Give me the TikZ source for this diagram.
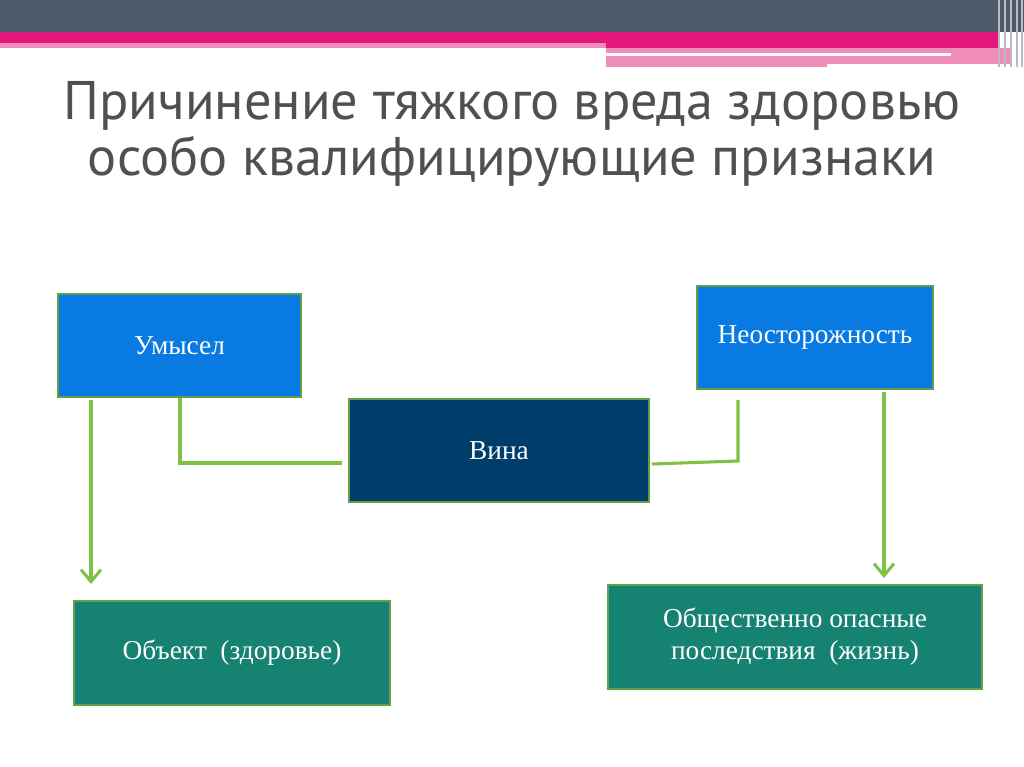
\documentclass[tikz,border=0pt]{standalone}
\usepackage{fontspec}
\setmainfont{Liberation Serif}
\newfontfamily\titlefont{PT Sans}
\usetikzlibrary{arrows.meta}
\definecolor{bardark}{RGB}{78,90,106}
\definecolor{barpink}{RGB}{229,23,123}
\definecolor{barlight}{RGB}{240,140,186}
\definecolor{titlegray}{RGB}{80,80,80}
\definecolor{boxblue}{RGB}{8,122,226}
\definecolor{boxnavy}{RGB}{0,61,107}
\definecolor{boxteal}{RGB}{22,130,114}
\definecolor{edgegreen}{RGB}{96,160,72}
\definecolor{linegreen}{RGB}{125,194,66}
\tikzstyle{box} = [draw=edgegreen, line width=1.5pt, text=white, align=center,
  font=\fontsize{20.5}{24}\selectfont, inner sep=0pt]
\tikzstyle{link} = [linegreen, line width=2.3pt]
\tikzstyle{arrow} = [link, -{Straight Barb[length=9pt,width=15pt,line width=2.3pt]}]

\begin{document}
\begin{tikzpicture}[x=0.75pt,y=-0.75pt]
            \useasboundingbox (0,0) rectangle (1024,767);
            % top bar
            \fill[bardark] (0,0) rectangle (1024,32);
            \fill[barpink] (0,32) rectangle (1000,48);
            \fill[barlight] (0,43) rectangle (606,48);
            \fill[barlight] (606,48) rectangle (1010,67);
            \fill[white] (606,53) rectangle (951,56);
            \fill[white] (827,64) rectangle (1010,67);
            \foreach \xx in {998,1004,1010,1016,1021}
              \fill[bardark!40] (\xx,0) rectangle ++(2,67);
            % title
            \node[text=titlegray, font=\titlefont\fontsize{40.8}{41.5}\selectfont, align=center] (title) at (512,134)
              {Причинение тяжкого вреда здоровью\\ особо квалифицирующие признаки};
            % boxes
            \node[box, fill=boxblue, minimum width=182pt, minimum height=77pt] (umysel) at (179.5,345.5) {Умысел};
            \node[box, fill=boxblue, minimum width=177pt, minimum height=77pt] (neost) at (815,337.5) {Неосторожность};
            \node[box, fill=boxnavy, minimum width=225pt, minimum height=77pt] (vina) at (499,450.5) {Вина};
            \node[box, fill=boxteal, minimum width=237pt, minimum height=78pt] (obj) at (232,653) {Объект\ \ (здоровье)};
            \node[box, fill=boxteal, minimum width=280pt, minimum height=78pt] (posl) at (795,637) {Общественно опасные\\ последствия\ \ (жизнь)};
            % connectors
            \coordinate (u1) at (91,400);
            \coordinate (o1) at (91,584);
            \coordinate (u2) at (180,398);
            \coordinate (v1) at (342,463);
            \coordinate (v2) at (652,464);
            \coordinate (n1) at (738,461);
            \coordinate (n2) at (738,400);
            \coordinate (n3) at (884,392);
            \coordinate (p1) at (884,578);
            \draw[arrow] (u1) -- (o1);
            \draw[link] (u2) |- (v1);
            \draw[link] (v2) -- (n1) -- (n2);
            \draw[arrow] (n3) -- (p1);
        \end{tikzpicture}
\end{document}
